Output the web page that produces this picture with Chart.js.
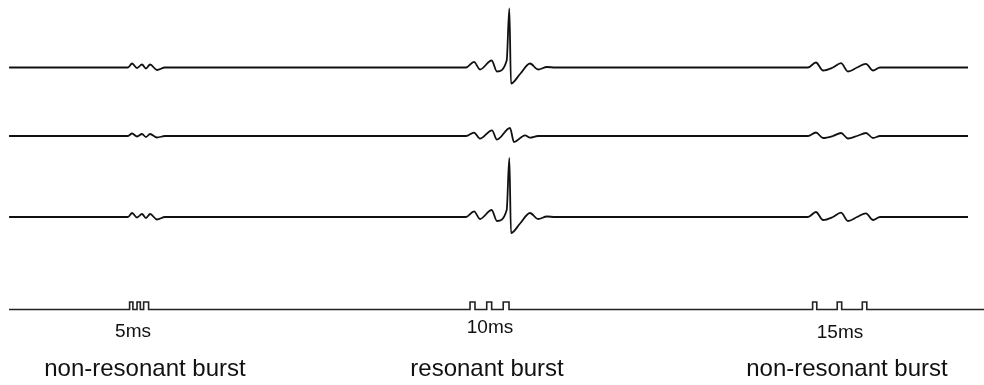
<!DOCTYPE html>
<html>
<head>
<meta charset="utf-8">
<script src="https://cdn.jsdelivr.net/npm/chart.js@4/dist/chart.umd.min.js"></script>
<style>
  html, body { margin: 0; padding: 0; background: #fff; }
</style>
</head>
<body>
<canvas id="burstChart" width="984" height="385"></canvas>
<script>
// time in ms, values are deflections from each trace's resting level
const trace1Time = [0.5, 72.5, 75.0, 78.0, 81.0, 83.4, 85.9, 90.1, 94.9,
  277.3, 282.1, 285.7, 292.8, 296.0, 301.9, 303.5, 304.5, 310.0, 316.0, 320.9, 326.3, 331.2,
  484.4, 489.2, 493.5, 499.5, 504.4, 508.6, 514.1, 519.5, 523.8, 528.0, 581.3];
const trace1Value = [0, 0, 4, -0.5, 3, -1, 3, -2.5, 0,
  0, 5.6, -2, 7, -4, 7, 59, -16, -6.5, 4, -2, 0.5, 0,
  0, 5, -3, 0, 4.3, -4, 0, 3.7, -3, 0, 0];

const trace2Time = [0.5, 72.5, 75.0, 78.0, 81.0, 83.4, 85.9, 90.1, 94.9,
  277.3, 282.1, 285.7, 293.0, 296.0, 303.9, 306.3, 313.0, 316.0, 320.9,
  484.4, 489.2, 493.5, 499.5, 504.4, 508.6, 514.1, 519.5, 523.8, 528.0, 581.3];
const trace2Value = [0, 0, 2.5, -0.5, 2, -1, 2, -1.5, 0,
  0, 3.4, -2.6, 5.7, -3.6, 8, -6, 0.7, -1.6, 0,
  0, 3.5, -2, 0, 3, -2.5, 0, 3, -2, 0, 0];

const trace3Time = [0.5, 72.5, 75.0, 78.0, 81.0, 83.4, 85.9, 90.1, 94.9,
  277.3, 282.1, 285.7, 292.8, 296.0, 301.9, 303.5, 304.5, 310.0, 316.0, 320.9, 326.3, 331.2,
  484.4, 489.2, 493.5, 499.5, 504.4, 508.6, 514.1, 519.5, 523.8, 528.0, 581.3];
const trace3Value = [0, 0, 4, -0.5, 3, -1, 3, -2.5, 0,
  0, 5.6, -2, 7, -4, 7, 59, -16, -6.5, 4, -2, 0.5, 0,
  0, 5, -3, 0, 4.3, -4, 0, 3.7, -3, 0, 0];

// stimulus pulse train (value = level after each edge)
const pulseTime = [0.5, 73.5, 75.5, 78, 80, 82, 85,
  279.7, 282.7, 289.8, 292.8, 299.8, 303.3,
  487.2, 489.7, 502.1, 504.8, 517.3, 520.0, 591];
const pulseValue = [0, 7.5, 0, 7.5, 0, 7.5, 0,
  7.5, 0, 7.5, 0, 7.5, 0,
  7.5, 0, 7.5, 0, 7.5, 0, 0];

const intervalLabels = ['5ms', '10ms', '15ms'];
const intervalLabelTime = [75.6, 291.8, 503.8];
const intervalLabelLevel = [53, 57, 52];
const burstLabels = ['non-resonant burst', 'resonant burst', 'non-resonant burst'];
const burstLabelTime = [82.8, 290.0, 508.0];

// stack the traces vertically
const toPoints = (times, values, offset) => times.map((t, i) => ({ x: t, y: values[i] + offset }));

const labelPlugin = {
  id: 'burstLabels',
  afterDraw(chart) {
    const { ctx, scales: { x, y } } = chart;
    ctx.save();
    ctx.fillStyle = '#111';
    ctx.textAlign = 'center';
    ctx.textBaseline = 'middle';
    ctx.font = '19px "Liberation Sans", Arial, sans-serif';
    intervalLabels.forEach((txt, i) => {
      ctx.fillText(txt, x.getPixelForValue(intervalLabelTime[i]), y.getPixelForValue(intervalLabelLevel[i]));
    });
    ctx.font = '24px "Liberation Sans", Arial, sans-serif';
    burstLabels.forEach((txt, i) => {
      ctx.fillText(txt, x.getPixelForValue(burstLabelTime[i]), y.getPixelForValue(16));
    });
    ctx.restore();
  }
};

const ctx = document.getElementById('burstChart').getContext('2d');
new Chart(ctx, {
  type: 'line',
  data: {
    datasets: [
      { data: toPoints(trace1Time, trace1Value, 317.5), borderColor: '#111', cubicInterpolationMode: 'monotone' },
      { data: toPoints(trace2Time, trace2Value, 249), borderColor: '#111', cubicInterpolationMode: 'monotone' },
      { data: toPoints(trace3Time, trace3Value, 168), borderColor: '#111', cubicInterpolationMode: 'monotone' },
      { data: toPoints(pulseTime, pulseValue, 75.5), borderColor: '#222', stepped: true, borderWidth: 1.6 }
    ]
  },
  options: {
    responsive: false,
    animation: false,
    devicePixelRatio: 1,
    layout: { padding: 0 },
    elements: {
      point: { radius: 0 },
      line: { borderWidth: 1.8, fill: false }
    },
    plugins: {
      legend: { display: false },
      tooltip: { enabled: false }
    },
    scales: {
      x: { type: 'linear', min: -5, max: 591, display: false },
      y: { min: 0, max: 385, display: false }
    }
  },
  plugins: [labelPlugin]
});
</script>
</body>
</html>
